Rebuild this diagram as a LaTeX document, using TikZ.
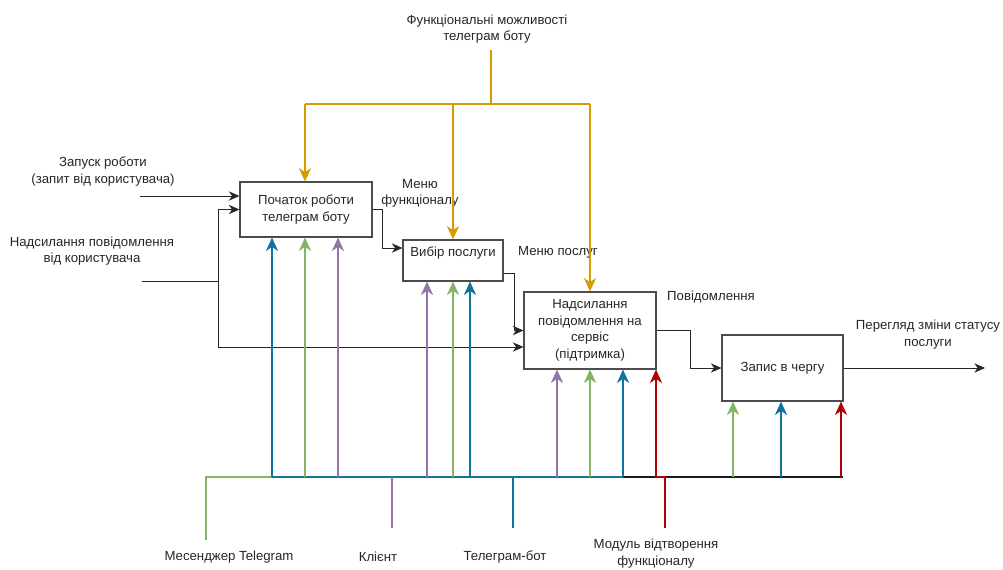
\documentclass[tikz,border=0pt]{standalone}
\usepackage{fontspec}
\setmainfont{Liberation Sans}
\usetikzlibrary{arrows.meta,calc}
\definecolor{ctrlorange}{HTML}{D79B00}
\definecolor{mechgreen}{HTML}{82B366}
\definecolor{mechpurple}{HTML}{9673A6}
\definecolor{mechblue}{HTML}{10739E}
\definecolor{mechred}{HTML}{B20000}
\begin{document}
\begin{tikzpicture}[x=0.75pt, y=-0.75pt,
    every node/.style={font=\fontsize{9.9}{12.4}\selectfont, text=black!85, align=center},
    block/.style={draw=black!70, line width=0.8pt, inner sep=0pt},
    tip/.style={-{Stealth[length=8pt,width=7pt,inset=2.5pt]}},
    bigtip/.style={-{Stealth[length=10pt,width=9pt,inset=3pt]}},
    flow/.style={draw=black!85, line width=0.75pt},
    mech/.style={line width=1.5pt}]

    \useasboundingbox (0,0) rectangle (1003,569);

    % activity blocks
    \node[block, minimum width=99pt, minimum height=41.25pt] (start) at (306,209.5) {Початок роботи\\телеграм боту};

    \node[block, minimum width=75pt, minimum height=30.75pt,
        label={[anchor=north, inner sep=0pt, yshift=-5pt]north:Вибір послуги}] (choice) at (453,260.5) {};

    \node[block, minimum width=99pt, minimum height=57.75pt] (send) at (590,330.5) {Надсилання\\повідомлення на\\сервіс\\(підтримка)};

    \node[block, minimum width=90.75pt, minimum height=49.5pt] (queue) at (782.5,368) {Запис в чергу};

    % labels
    \node (func) at (487,29) {Функціональні можливості\\телеграм боту};

    \node (launch) at (103,171.5) {Запуск роботи\\(запит від користувача)};

    \node (msg) at (92,251) {Надсилання повідомлення\\від користувача};

    \node (menuf) at (420,193.5) {Меню\\функціоналу};

    \node (menus) at (558,252) {Меню послуг};

    \node (notice) at (711,297) {Повідомлення};

    \node (status) at (928,334.5) {Перегляд зміни статусу\\послуги};

    \node (tgm) at (229,557) {Месенджер Telegram};

    \node (client) at (378,557) {Клієнт};

    \node (bot) at (505,557) {Телеграм-бот};

    \node (module) at (656,553.5) {Модуль відтворення\\функціоналу};

    % control
    \coordinate (fsrc) at (491,50);
    \coordinate (fbus) at (491,104);
    \coordinate (fl) at (305,104);
    \coordinate (fm) at (453,104);
    \coordinate (fr) at (590,104);

    \draw[mech, ctrlorange] (fsrc) -- (fbus);
    \draw[mech, ctrlorange] (fl) -- (fr);
    \draw[mech, ctrlorange, bigtip] (fl) -- (fl |- start.north);
    \draw[mech, ctrlorange, bigtip] (fm) -- (fm |- choice.north);
    \draw[mech, ctrlorange, bigtip] (fr) -- (fr |- send.north);

    % inputs and outputs
    \coordinate (in1) at (140,196);
    \coordinate (in2) at (142,281);
    \coordinate (split) at (218,281);
    \coordinate (out) at (985,368);

    \draw[flow, tip] (in1) -- (in1 -| start.west);
    \draw[flow] (in2) -- (split);
    \draw[flow, tip] (split) |- (start.west);
    \draw[flow, tip] (split) |- ($(send.west)+(0,16.5)$);
    \draw[flow, tip] (start.east) -- ++(10,0) |- ($(choice.west)+(0,-12.5)$);
    \draw[flow, tip] ($(choice.east)+(0,12.5)$) -- ++(11,0) |- (send.west);
    \draw[flow, tip] (send.east) -- ++(34,0) |- (queue.west);
    \draw[flow, tip] (queue.east) -- (out);

    % mechanisms
    \coordinate (gsrc) at (206,540);
    \coordinate (gbus) at (206,477);
    \coordinate (bbus) at (272,477);
    \coordinate (kbus) at (623,477);
    \coordinate (ebus) at (843,477);
    \coordinate (psrc) at (392,528);
    \coordinate (tsrc) at (513,528);
    \coordinate (rsrc) at (665,528);
    \coordinate (rbus) at (656,477);

    \draw[mech, mechblue] (bbus) -- (kbus);
    \draw[mech, black!90] (kbus) -- (ebus);
    \draw[mech, mechgreen] (gsrc) |- (bbus);
    \draw[mech, mechpurple] (psrc) -- (psrc |- gbus);
    \draw[mech, mechblue] (tsrc) -- (tsrc |- gbus);
    \draw[mech, mechred, bigtip] (rsrc) |- (rbus) -- (rbus |- send.south);

    \foreach \px/\clr in {272/mechblue, 305/mechgreen, 338/mechpurple}
        \draw[mech, \clr, bigtip] (\px,477) -- (\px,477 |- start.south);

    \foreach \px/\clr in {427/mechpurple, 453/mechgreen, 470/mechblue}
        \draw[mech, \clr, bigtip] (\px,477) -- (\px,477 |- choice.south);

    \foreach \px/\clr in {557/mechpurple, 590/mechgreen, 623/mechblue}
        \draw[mech, \clr, bigtip] (\px,477) -- (\px,477 |- send.south);

    \foreach \px/\clr in {733/mechgreen, 781/mechblue, 841/mechred}
        \draw[mech, \clr, bigtip] (\px,477) -- (\px,477 |- queue.south);
\end{tikzpicture}
\end{document}
